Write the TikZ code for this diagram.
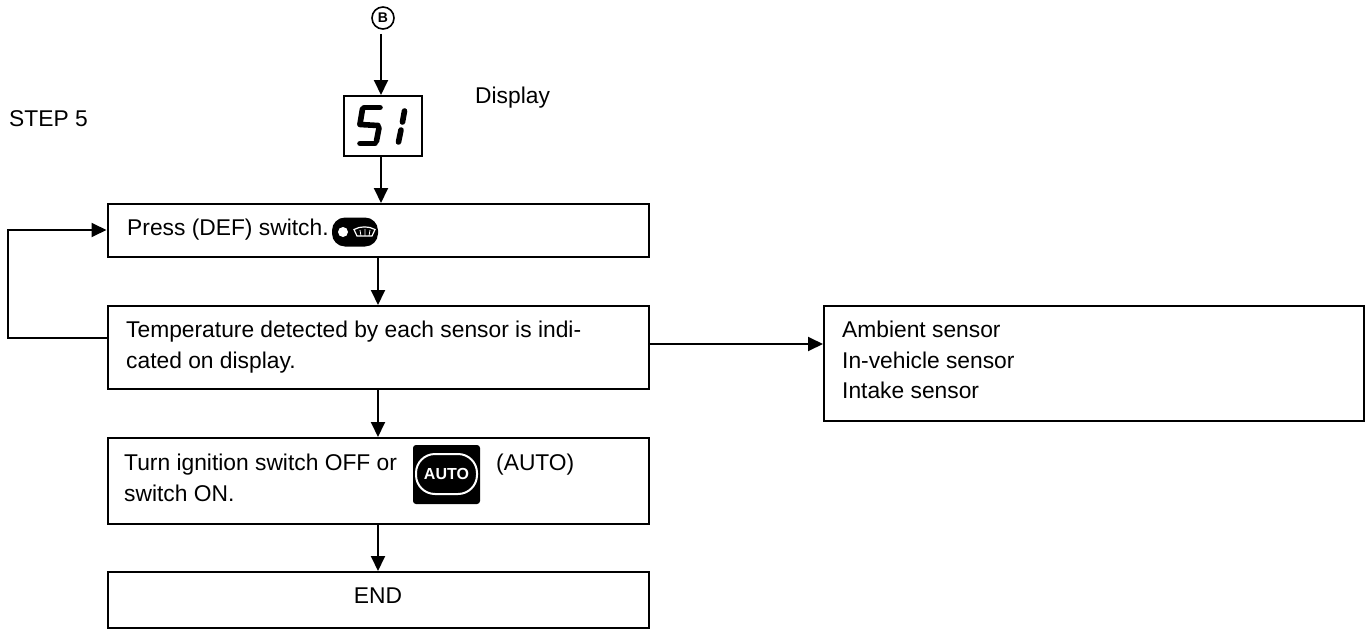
\documentclass[tikz,border=0pt]{standalone}
\usepackage{fontspec}
\setmainfont{Liberation Sans}
\usetikzlibrary{arrows.meta,calc}
\tikzset{
  box/.style={draw=black,line width=2pt,inner sep=0pt,fill=white},
  arr/.style={draw=black,line width=1.9pt,-{Triangle[length=15pt,width=14pt]}},
  lbl/.style={inner sep=0pt,anchor=base west,font=\fontsize{22.8}{26}\selectfont,text=black},
  seg/.style={line width=5.6pt,line cap=round,draw=black},
}
\begin{document}
\begin{tikzpicture}[x=1pt,y=-1pt]
\useasboundingbox (0,0) rectangle (1369,629);
% boxes
\node[box,minimum width=78pt,minimum height=60pt] (disp) at (383,126) {};
\node[box,minimum width=541pt,minimum height=53pt] (press) at (378,230.5) {};
\node[box,minimum width=541pt,minimum height=83pt] (temp) at (378,347.5) {};
\node[box,minimum width=541pt,minimum height=86pt] (turn) at (378,481) {};
\node[box,minimum width=541pt,minimum height=56pt] (endb) at (378,600) {};
\node[box,minimum width=540pt,minimum height=115pt] (sens) at (1094,363.5) {};
\node[draw=black,circle,line width=1.6pt,minimum size=22pt,inner sep=0pt,font=\fontsize{14}{14}\selectfont\bfseries] (b) at (383,18) {B};
% seven-segment reading
\draw[seg] (364,107.5) -- (380,107.5);
\draw[seg] (362.5,109) -- (360,124);
\draw[seg] (360,124.5) -- (378,125.5);
\draw[seg] (379,128) -- (376.5,141);
\draw[seg] (360,143.5) -- (375,143.5);
\draw[seg] (404.5,111) -- (402.5,122);
\draw[seg] (401,130) -- (398.5,142);
% texts
\node[lbl] (tstep) at (9,126) {STEP 5};
\node[lbl] (tdisp) at (475,103) {Display};
\node[lbl] (t1) at (127,235.5) {Press (DEF) switch.};
\node[lbl] (t2) at (126,337) {Temperature detected by each sensor is indi-};
\node[lbl] (t3) at (126,368) {cated on display.};
\node[lbl] (t4) at (124,470) {Turn ignition switch OFF or};
\node[lbl] (t5) at (496,470) {(AUTO)};
\node[lbl] (t6) at (124,501) {switch ON.};
\node[lbl,anchor=base] (t7) at (378,603) {END};
\node[lbl] (t8) at (842,337) {Ambient sensor};
\node[lbl] (t9) at (842,368) {In-vehicle sensor};
\node[lbl] (t10) at (842,398) {Intake sensor};
% icons
\node[fill=black,rounded corners=13pt,minimum width=46pt,minimum height=29pt,inner sep=0pt] (def) at (355,232) {};
\fill[white] (343,232) circle (5pt);
\draw[white,line width=1.2pt] (354,229.5) .. controls (360,226) and (369,226) .. (375,229.5) -- (372,236) -- (357,236) -- cycle;
\draw[white,line width=.8pt] (360,230) -- (361,236) (365,229) -- (365,236) (370,230) -- (369,236);
\node[fill=black,rounded corners=3pt,minimum width=67pt,minimum height=59pt,inner sep=0pt] (auto) at (446.5,474.5) {};
\node[draw=white,line width=2pt,rounded corners=19pt,minimum width=61pt,minimum height=40pt,inner sep=0pt,text=white,font=\fontsize{16}{16}\selectfont\bfseries] (autot) at (446.5,474) {AUTO};
% connectors
\coordinate (vb) at (381,0);
\draw[arr,shorten <=4pt] (b.south -| vb) -- (disp.north -| vb);
\draw[arr] (disp.south -| vb) -- (press.north -| vb);
\draw[arr] (press.south) -- (temp.north);
\draw[arr] (temp.south) -- (turn.north);
\draw[arr] (turn.south) -- (endb.north);
\coordinate (loopa) at (8,338);
\coordinate (loopb) at (8,230);
\draw[arr] (temp.west |- loopa) -- (loopa) -- (loopb) -- (press.west |- loopb);
\coordinate (tap) at (0,344);
\draw[arr] (temp.east |- tap) -- (sens.west |- tap);
\end{tikzpicture}
\end{document}
